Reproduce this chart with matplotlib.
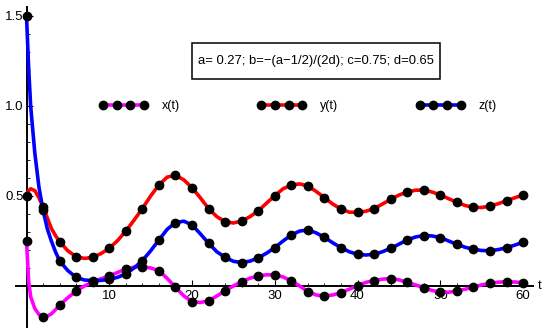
import numpy as np
import matplotlib
matplotlib.use("Agg")
import matplotlib.pyplot as plt
from matplotlib.patches import Rectangle
import matplotlib.transforms as mtransforms

plt.rcParams['font.family'] = ['Liberation Sans', 'DejaVu Sans']

# ---- data ----
t_vals = [0, 0.25, 0.5, 1, 1.5, 2, 2.5, 3, 3.5, 4, 5, 6, 7, 8, 9, 10, 11, 12, 13, 14, 15,
          16, 17, 18, 19, 20, 21, 22, 23, 24, 25, 26, 27, 28, 29, 30, 31, 32, 33, 34, 35,
          36, 37, 38, 39, 40, 41, 42, 43, 44, 45, 46, 47, 48, 49, 50, 51, 52, 53, 54, 55,
          56, 57, 58, 59, 60]

x_vals = [0.25, 0.03, -0.06, -0.125, -0.158, -0.170, -0.168, -0.155, -0.132, -0.106, -0.065,
          -0.028, 0.0, 0.022, 0.040, 0.056, 0.075, 0.094, 0.105, 0.107, 0.100,
          0.085, 0.042, -0.007, -0.055, -0.087, -0.092, -0.082, -0.056, -0.026, 0.0,
          0.024, 0.043, 0.056, 0.062, 0.061, 0.050, 0.028, 0.0, -0.031, -0.050,
          -0.056, -0.050, -0.037, -0.018, 0.002, 0.020, 0.030, 0.038, 0.041, 0.034,
          0.020, 0.006, -0.009, -0.025, -0.035, -0.035, -0.028, -0.018, -0.006, 0.006,
          0.015, 0.021, 0.024, 0.022, 0.018]

y_vals = [0.50, 0.53, 0.54, 0.53, 0.49, 0.44, 0.38, 0.32, 0.28, 0.246, 0.195,
          0.163, 0.153, 0.159, 0.180, 0.209, 0.252, 0.305, 0.366, 0.430, 0.500,
          0.561, 0.605, 0.615, 0.590, 0.546, 0.490, 0.430, 0.385, 0.357, 0.350,
          0.361, 0.385, 0.417, 0.460, 0.502, 0.540, 0.561, 0.567, 0.556, 0.525,
          0.491, 0.455, 0.428, 0.410, 0.409, 0.415, 0.430, 0.455, 0.481, 0.505,
          0.522, 0.532, 0.533, 0.522, 0.506, 0.485, 0.465, 0.447, 0.437, 0.436,
          0.444, 0.457, 0.474, 0.490, 0.506]

z_vals = [1.50, 1.22, 1.00, 0.74, 0.55, 0.42, 0.32, 0.25, 0.19, 0.139, 0.085,
          0.048, 0.033, 0.030, 0.031, 0.037, 0.048, 0.067, 0.100, 0.141, 0.195,
          0.256, 0.315, 0.352, 0.360, 0.339, 0.290, 0.237, 0.190, 0.159, 0.137,
          0.130, 0.138, 0.156, 0.182, 0.213, 0.250, 0.283, 0.305, 0.311, 0.295,
          0.270, 0.240, 0.213, 0.190, 0.176, 0.172, 0.176, 0.190, 0.209, 0.232,
          0.256, 0.272, 0.280, 0.278, 0.269, 0.250, 0.232, 0.215, 0.204, 0.197,
          0.196, 0.202, 0.213, 0.227, 0.243]

series_labels = ["x(t)", "y(t)", "z(t)"]
series_colors = ["#FF00FF", "#FF0000", "#0000FF"]
marker_step = 2
x_ticks = [10, 20, 30, 40, 50, 60]
y_ticks = [0.5, 1.0, 1.5]
param_text = "a= 0.27; b=\u2212(a\u22121/2)/(2d); c=0.75; d=0.65"

# ---- figure ----
W, H = 550, 334
fig = plt.figure(figsize=(W / 100, H / 100), dpi=100)
ax_l, ax_r, ax_t, ax_b = 16, 533, 7, 327
ax = fig.add_axes([ax_l / W, 1 - ax_b / H, (ax_r - ax_l) / W, (ax_b - ax_t) / H])
ax.set_xlim(-1.27, 61.2)
ax.set_ylim(-0.228, 1.55)

t_arr = np.array(t_vals)
mask = np.isclose(np.mod(t_arr, marker_step), 0)

lw = 2.6
ms = 6.0
handles = []
for vals, col, lab in zip([x_vals, y_vals, z_vals], series_colors, series_labels):
    ax.plot(t_arr, vals, color=col, lw=lw, zorder=3, clip_on=False, solid_capstyle='round')
for vals, col, lab in zip([x_vals, y_vals, z_vals], series_colors, series_labels):
    v = np.array(vals)
    ax.plot(t_arr[mask], v[mask], ls='none', marker='o', ms=ms, color='black', zorder=5, clip_on=False)
    h, = ax.plot([], [], color=col, lw=lw, marker='o', ms=ms, mfc='black', mec='black', label=lab)
    handles.append(h)

# axes through origin
for s in ['top', 'right']:
    ax.spines[s].set_visible(False)
ax.spines['left'].set_position(('data', 0))
ax.spines['bottom'].set_position(('data', 0))
ax.spines['left'].set_linewidth(1.4)
ax.spines['bottom'].set_linewidth(1.4)
ax.set_xticks(x_ticks)
ax.set_xticklabels([str(v) for v in x_ticks])
ax.set_yticks(y_ticks)
ax.set_yticklabels([f"{v:.1f}" for v in y_ticks])
ax.set_xticks(np.arange(2, 61, 2), minor=True)
ax.set_yticks(np.arange(0.1, 1.55, 0.1), minor=True)
ax.tick_params(axis='both', which='major', direction='in', length=4, width=0.8, labelsize=9.5)
ax.tick_params(axis='both', which='minor', direction='in', length=2, width=0.6)
ax.tick_params(axis='x', pad=3)
ax.tick_params(axis='y', pad=2)

trans = mtransforms.blended_transform_factory(ax.transAxes, ax.transData)
ax.text(1.01, 0, 't', transform=trans, ha='left', va='center', fontsize=9.5)

# legend
leg = fig.legend(handles=handles, loc='center left', bbox_to_anchor=(99 / W, 1 - 106 / H),
                 ncol=3, frameon=False, numpoints=4, fontsize=9, handlelength=3.9,
                 handletextpad=1.12, columnspacing=6.2, borderpad=0, borderaxespad=0)

# parameter box
fig.patches.append(Rectangle((192 / W, 1 - 79 / H), (440 - 192) / W, (79 - 43) / H,
                             transform=fig.transFigure, fill=False, edgecolor='black', lw=1.1))
fig.text(316 / W, 1 - 61 / H, param_text, ha='center', va='center', fontsize=9.4)

fig.savefig("out.png", dpi=100)
